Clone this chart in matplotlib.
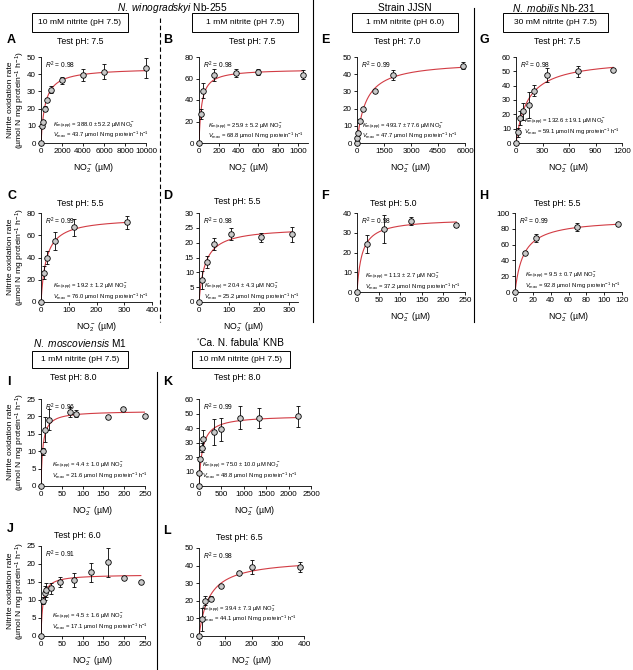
import numpy as np
import matplotlib
matplotlib.use('Agg')
import matplotlib.pyplot as plt
from matplotlib.lines import Line2D
from matplotlib.patches import Rectangle

plt.rcParams['font.family'] = ['Liberation Sans', 'DejaVu Sans']
plt.rcParams['mathtext.fontset'] = 'custom'
plt.rcParams['mathtext.rm'] = 'Liberation Sans'
plt.rcParams['mathtext.it'] = 'Liberation Sans:italic'
plt.rcParams['mathtext.bf'] = 'Liberation Sans:bold'

W, H = 633, 670

# --- data (NO2- in uM, rate in umol N mg protein-1 h-1) ---
A_x = [0, 50, 150, 400, 600, 1000, 2000, 4000, 6000, 10000]
A_y = [0, 10, 12.5, 20, 25, 31, 36.5, 39.5, 41.5, 43.5]
A_err = [0, 1, 1, 1.5, 1, 2, 2, 3.5, 4.5, 5.8]

B_x = [0, 20, 45, 150, 375, 600, 1050]
B_y = [0, 27, 48.5, 63, 65, 66, 63.5]
B_err = [0, 5, 7, 5.5, 3.5, 3, 4]

C_x = [0, 10, 20, 50, 120, 310]
C_y = [0, 26.5, 40, 55, 67, 71.5]
C_err = [0, 6, 6, 8, 8, 6]

D_x = [0, 10, 25, 50, 105, 205, 310]
D_y = [0, 7.5, 13.5, 19.5, 23, 21.8, 22.8]
D_err = [0, 3, 2, 2, 2, 1.5, 2.5]

E_x = [0, 20, 50, 150, 350, 1000, 2000, 5900]
E_y = [0, 3, 6, 13, 19.5, 30, 39.5, 45]
E_err = [0, 0, 0, 0.5, 0.5, 0.5, 3, 2]

F_x = [0, 23, 63, 125, 230]
F_y = [0, 24.5, 32, 36, 34]
F_err = [0, 4.5, 7, 2, 1]

G_x = [0, 23, 46, 80, 145, 200, 350, 700, 1100]
G_y = [0, 7.5, 17.5, 22, 26.5, 36.5, 47.5, 50, 51]
G_err = [0, 3, 5, 6, 9, 4, 5, 4, 0.5]

H_x = [0, 11, 23, 70, 115]
H_y = [0, 50, 68, 82, 85.5]
H_err = [0, 2, 5, 5, 0.5]

I_x = [0, 4, 9, 20, 70, 83, 160, 197, 250]
I_y = [0, 10, 16.2, 19.1, 21.3, 20.7, 19.7, 22, 20]
I_err = [0, 1, 3.5, 3, 1.5, 1, 0, 0, 0]

J_x = [0, 4, 9, 12, 23, 46, 80, 120, 160, 200, 240]
J_y = [0, 9.8, 12, 12.8, 13.2, 15, 15.5, 17.7, 20.5, 16, 15.1]
J_err = [0, 1, 2, 2, 1.5, 1.5, 2, 2.7, 4, 0, 0]

K_x = [0, 10, 30, 60, 100, 330, 500, 915, 1330, 2200]
K_y = [0, 9, 18.5, 26.5, 32.5, 37.5, 39, 47, 47, 48]
K_err = [0, 0, 1, 3, 6, 9, 8, 8, 7, 7]

L_x = [0, 12, 23, 45, 83, 151, 200, 385]
L_y = [0, 9.5, 20, 21.3, 28.2, 35.8, 39, 39.3]
L_err = [0, 6.5, 2.5, 1.5, 0.5, 0.5, 4, 3]

# Michaelis-Menten fit parameters printed in each panel
KM = {'A': (388.0, 52.2), 'B': (25.9, 5.2), 'C': (19.2, 1.2), 'D': (20.4, 4.3),
      'E': (493.7, 77.6), 'F': (11.3, 2.7), 'G': (132.6, 19.1), 'H': (9.5, 0.7),
      'I': (4.4, 1.0), 'J': (4.5, 1.6), 'K': (75.0, 10.0), 'L': (39.4, 7.3)}
VMAX = {'A': 43.7, 'B': 68.8, 'C': 76.0, 'D': 25.2, 'E': 47.7, 'F': 37.2,
        'G': 59.1, 'H': 92.8, 'I': 21.6, 'J': 17.1, 'K': 48.8, 'L': 44.1}
R2 = {'A': 0.98, 'B': 0.98, 'C': 0.99, 'D': 0.98, 'E': 0.99, 'F': 0.98,
      'G': 0.98, 'H': 0.99, 'I': 0.96, 'J': 0.91, 'K': 0.99, 'L': 0.98}
TEST_PH = {'A': '7.5', 'B': '7.5', 'C': '5.5', 'D': '5.5', 'E': '7.0', 'F': '5.0',
           'G': '7.5', 'H': '5.5', 'I': '8.0', 'J': '6.0', 'K': '8.0', 'L': '6.5'}

DATA = {'A': (A_x, A_y, A_err), 'B': (B_x, B_y, B_err), 'C': (C_x, C_y, C_err),
        'D': (D_x, D_y, D_err), 'E': (E_x, E_y, E_err), 'F': (F_x, F_y, F_err),
        'G': (G_x, G_y, G_err), 'H': (H_x, H_y, H_err), 'I': (I_x, I_y, I_err),
        'J': (J_x, J_y, J_err), 'K': (K_x, K_y, K_err), 'L': (L_x, L_y, L_err)}

# layout in pixels: left, x of last tick, top, bottom; xmax, xstep, ymax, ystep,
# test-pH label (x, y), km text (x, y) in axes fraction
LAYOUT = {
    'A': (41, 146, 57, 143, 10000, 2000, 50, 10, (80, 41), (0.11, 0.20)),
    'B': (199, 298, 57, 143, 1100, 200, 80, 20, (252, 41), (0.08, 0.19)),
    'E': (357, 465, 57, 143, 6000, 1500, 50, 10, (397, 41), (0.05, 0.19)),
    'G': (516, 622, 57, 143, 1200, 300, 60, 10, (557, 41), (0.08, 0.245)),
    'C': (41, 152, 213, 302, 400, 100, 80, 20, (80, 203), (0.11, 0.17)),
    'D': (199, 289, 213, 302, 330, 100, 30, 5, (237, 201), (0.05, 0.17)),
    'F': (357, 465, 213, 292, 250, 50, 40, 10, (393, 203), (0.07, 0.19)),
    'H': (515, 622, 213, 292, 120, 20, 100, 20, (557, 203), (0.09, 0.20)),
    'I': (41, 145, 399, 486, 250, 50, 25, 5, (73, 377), (0.11, 0.23)),
    'K': (199, 311, 399, 486, 2500, 500, 60, 10, (237, 377), (0.03, 0.23)),
    'J': (41, 145, 546, 636, 250, 50, 25, 5, (77, 535), (0.11, 0.21)),
    'L': (199, 304, 548, 636, 400, 100, 50, 10, (239, 537), (0.02, 0.30)),
}

RED = '#d23c44'


def fx(x):
    return x / W


def fy(y):
    return 1 - y / H


fig = plt.figure(figsize=(W / 100, H / 100), dpi=100)

for key, (left, xt, top, bot, xmax, xstep, ymax, ystep, ph_pos, ktxt) in LAYOUT.items():
    last_tick = (xmax // xstep) * xstep
    right = left + (xt - left) * xmax / last_tick
    ax = fig.add_axes([fx(left), fy(bot), (right - left) / W, (bot - top) / H])
    x, y, err = DATA[key]
    x = np.array(x, float)
    y = np.array(y, float)
    err = np.array(err, float)

    km, km_sd = KM[key]
    vmax = VMAX[key]
    xs = np.linspace(0, x.max(), 400)
    ax.plot(xs, vmax * xs / (km + xs), color=RED, lw=0.8, zorder=2)

    m = err > 0
    eb = ax.errorbar(x[m], y[m], yerr=err[m], fmt='none', ecolor='black',
                     elinewidth=0.6, capsize=1.6, capthick=0.6, zorder=3)
    for art in eb.lines[1] + eb.lines[2]:
        art.set_clip_on(False)
    ax.plot(x, y, 'o', ms=4, mfc='#c9c9c9', mec='black', mew=0.6,
            zorder=4, clip_on=False)

    ax.set_xlim(0, xmax)
    ax.set_ylim(0, ymax)
    ax.set_xticks(np.arange(0, last_tick + 1, xstep))
    ax.set_yticks(np.arange(0, ymax + 0.001, ystep))
    for s in ('top', 'right'):
        ax.spines[s].set_visible(False)
    for s in ('left', 'bottom'):
        ax.spines[s].set_linewidth(0.6)
    ax.tick_params(direction='out', length=2.2, width=0.6, pad=1.5,
                   labelsize=5.8)

    ax.text(0.04, 0.97, f'$R^2$ = {R2[key]:.2f}', transform=ax.transAxes,
            fontsize=4.8, ha='left', va='top')
    kx, ky = ktxt
    ax.text(kx, ky, r'$K_{\mathrm{m(app)}}$' + f' = {km:.1f} ± {km_sd:.1f} µM NO' +
            r'$_2^-$', transform=ax.transAxes, fontsize=4.2, ha='left', va='center')
    ax.text(kx, ky - 9.5 / (bot - top), r'$V_{\mathrm{max}}$' +
            f' = {vmax:.1f} µmol N mg protein' + r'$^{-1}$ h$^{-1}$',
            transform=ax.transAxes, fontsize=4.2, ha='left', va='center')

    # panel letter, test pH and x label
    fig.text(fx(left - 34 if left < 60 else left - 36), fy(top - 17), key,
             fontsize=9, fontweight='bold', ha='left', va='center')
    fig.text(fx(ph_pos[0]), fy(ph_pos[1]), f'Test pH: {TEST_PH[key]}',
             fontsize=6.3, ha='center', va='center')
    fig.text(fx((left + xt) / 2), fy(bot + 25), r'NO$_2^-$ (µM)', fontsize=6.3,
             ha='center', va='center')

# y labels for left column
for yc in (100, 257, 442, 591):
    fig.text(fx(17), fy(yc), 'Nitrite oxidation rate\n(µmol N mg protein$^{-1}$ h$^{-1}$)',
             rotation=90, fontsize=6.1, ha='center', va='center', linespacing=0.95)

# species titles
fig.text(fx(172), fy(8), r'$\it{N.\ winogradskyi}$ Nb-255', fontsize=7.3,
         ha='center', va='center')
fig.text(fx(405), fy(8), 'Strain JJSN', fontsize=7.3, ha='center', va='center')
fig.text(fx(554), fy(8), r'$\it{N.\ mobilis}$ Nb-231', fontsize=7.3,
         ha='center', va='center')
fig.text(fx(80), fy(343), r'$\it{N.\ moscoviensis}$ M1', fontsize=7.3,
         ha='center', va='center')
fig.text(fx(240), fy(343), '‘Ca. N. fabula’ KNB', fontsize=7.3,
         ha='center', va='center')

# medium boxes
for (x0, x1, y0, y1, label) in [(32, 128, 13, 32, '10 mM nitrite (pH 7.5)'),
                                (192, 298, 13, 32, '1 mM nitrite (pH 7.5)'),
                                (352, 458, 13, 32, '1 mM nitrite (pH 6.0)'),
                                (503, 608, 13, 32, '30 mM nitrite (pH 7.5)'),
                                (32, 128, 351, 368, '1 mM nitrite (pH 7.5)'),
                                (192, 290, 351, 368, '10 mM nitrite (pH 7.5)')]:
    fig.patches.append(Rectangle((fx(x0), fy(y1)), (x1 - x0) / W, (y1 - y0) / H,
                                 transform=fig.transFigure, fill=False,
                                 edgecolor='black', lw=0.7))
    fig.text(fx((x0 + x1) / 2), fy((y0 + y1) / 2), label, fontsize=6.1,
             ha='center', va='center')

# separators
fig.lines.append(Line2D([fx(160), fx(160)], [fy(18), fy(322)], color='black',
                        lw=0.8, ls=(0, (4, 2.5)), transform=fig.transFigure))
fig.lines.append(Line2D([fx(313), fx(313)], [fy(0), fy(322)], color='black',
                        lw=0.8, transform=fig.transFigure))
fig.lines.append(Line2D([fx(474), fx(474)], [fy(8), fy(322)], color='black',
                        lw=0.8, transform=fig.transFigure))
fig.lines.append(Line2D([fx(157), fx(157)], [fy(372), fy(670)], color='black',
                        lw=0.8, transform=fig.transFigure))

fig.savefig('out.png', dpi=100)
